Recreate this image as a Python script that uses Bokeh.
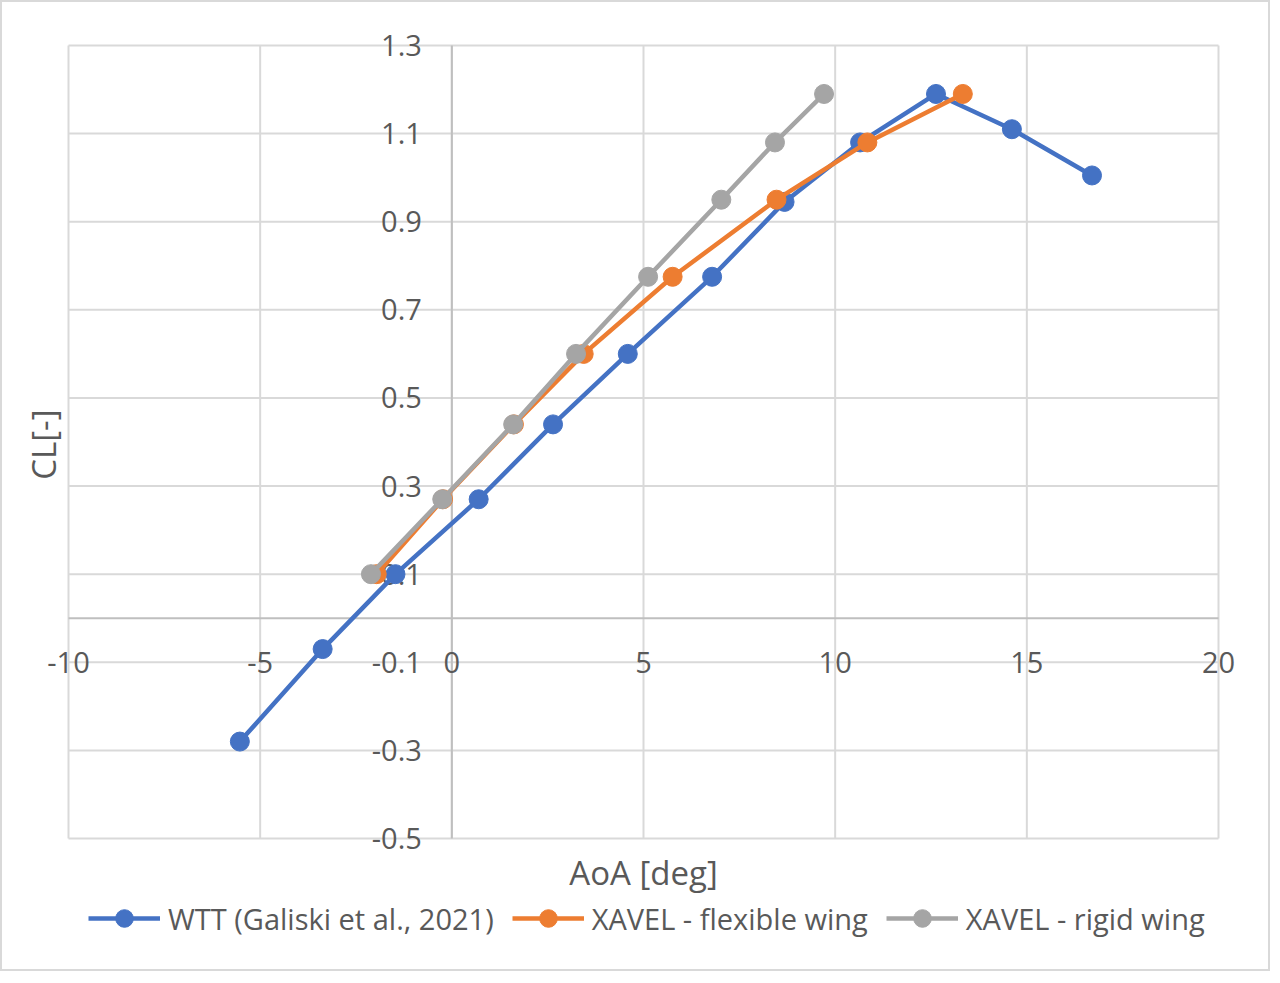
import math
from bokeh.plotting import figure
from bokeh.core.properties import value
from bokeh.models import (Range1d, Label, LabelSet, ColumnDataSource, Legend,
                          LegendItem)
from bokeh.embed import file_html
from bokeh.resources import INLINE

# WTT (Galiski et al., 2021)
wtt_aoa = [-5.53, -3.37, -1.47, 0.70, 2.64, 4.59, 6.79, 8.68, 10.65, 12.63, 14.61, 16.70]
wtt_cl = [-0.28, -0.07, 0.10, 0.27, 0.44, 0.60, 0.775, 0.945, 1.08, 1.19, 1.11, 1.005]

# XAVEL - flexible wing
flex_aoa = [-1.96, -0.23, 1.62, 3.44, 5.76, 8.47, 10.84, 13.33]
flex_cl = [0.10, 0.27, 0.44, 0.60, 0.775, 0.95, 1.08, 1.19]

# XAVEL - rigid wing
rigid_aoa = [-2.11, -0.25, 1.60, 3.24, 5.12, 7.03, 8.43, 9.71]
rigid_cl = [0.10, 0.27, 0.44, 0.60, 0.775, 0.95, 1.08, 1.19]

x_ticks = [-10, -5, 0, 5, 10, 15, 20]
x_tick_labels = ["-10", "-5", "0", "5", "10", "15", "20"]
y_ticks = [-0.5, -0.3, -0.1, 0.1, 0.3, 0.5, 0.7, 0.9, 1.1, 1.3]
y_tick_labels = ["-0.5", "-0.3", "-0.1", "0.1", "0.3", "0.5", "0.7", "0.9", "1.1", "1.3"]

FONT = "Open Sans"
TXT = "#595959"
GRID = "#d9d9d9"
AXIS = "#bfbfbf"

# the frame covers the whole canvas so that tick labels, titles and the
# legend can sit around the plot area without being clipped
W, H = 1270, 971
xmin, xmax, ymin, ymax = -10, 20, -0.5, 1.3
left, top, pw, ph = 66, 43, 1150, 793
sx = pw / (xmax - xmin)
sy = ph / (ymax - ymin)
x0 = xmin - left / sx
y1 = ymax + top / sy

p = figure(width=W, height=H, output_backend="svg", toolbar_location=None,
           x_range=Range1d(x0, x0 + W / sx), y_range=Range1d(y1 - H / sy, y1),
           x_axis_location=None, y_axis_location=None, min_border=0)
p.styles = {"border": "2px solid #d9d9d9"}
p.outline_line_color = None
p.grid.visible = False

# gridlines
p.segment(x0=x_ticks, y0=[ymin] * len(x_ticks), x1=x_ticks, y1=[ymax] * len(x_ticks),
          line_color=GRID, line_width=2, level="underlay")
p.segment(x0=[xmin] * len(y_ticks), y0=y_ticks, x1=[xmax] * len(y_ticks), y1=y_ticks,
          line_color=GRID, line_width=2, level="underlay")
# axes crossing at the origin
p.segment(x0=[xmin, 0], y0=[0, ymin], x1=[xmax, 0], y1=[0, ymax],
          line_color=AXIS, line_width=2, level="underlay")

# tick labels: x labels sit on the -0.1 row, y labels left of x=0
xlab = ColumnDataSource(dict(x=x_ticks, y=[-0.1] * len(x_ticks), t=x_tick_labels))
ylab = ColumnDataSource(dict(x=[0] * len(y_ticks), y=y_ticks, t=y_tick_labels))
p.add_layout(LabelSet(x="x", y="y", text="t", source=xlab, text_align="center",
                      text_baseline="middle", text_font=value(FONT),
                      text_font_size="29px", text_color=TXT, level="underlay"))
p.add_layout(LabelSet(x="x", y="y", text="t", source=ylab, x_offset=-30,
                      text_align="right", text_baseline="middle",
                      text_font=value(FONT), text_font_size="29px",
                      text_color=TXT, level="underlay"))

# axis titles
p.add_layout(Label(x=5, y=-0.577, text="AoA [deg]", text_align="center",
                   text_baseline="middle", text_font=FONT, text_font_size="33px",
                   text_color=TXT))
p.add_layout(Label(x=-10.66, y=0.394, text="CL[-]", angle=math.pi / 2,
                   text_align="center", text_baseline="middle", text_font=FONT,
                   text_font_size="33px", text_color=TXT))

series = [
    ("WTT (Galiski et al., 2021)", wtt_aoa, wtt_cl, "#4472c4"),
    ("XAVEL - flexible wing", flex_aoa, flex_cl, "#ed7d31"),
    ("XAVEL - rigid wing", rigid_aoa, rigid_cl, "#a5a5a5"),
]
items = []
for name, xs, ys, col in series:
    r1 = p.line(xs, ys, line_color=col, line_width=4.5)
    r2 = p.scatter(xs, ys, size=19, fill_color=col, line_color=col)
    items.append(LegendItem(label=name, renderers=[r1, r2]))

legend = Legend(items=items, orientation="horizontal", location=(86, 33),
                glyph_width=72, glyph_height=44, label_standoff=8, spacing=18,
                padding=0, margin=0, border_line_color=None,
                background_fill_alpha=0,
                label_text_font=FONT, label_text_font_size="29px",
                label_text_color=TXT)
p.add_layout(legend)

open("out.html", "w").write(file_html(p, INLINE))
